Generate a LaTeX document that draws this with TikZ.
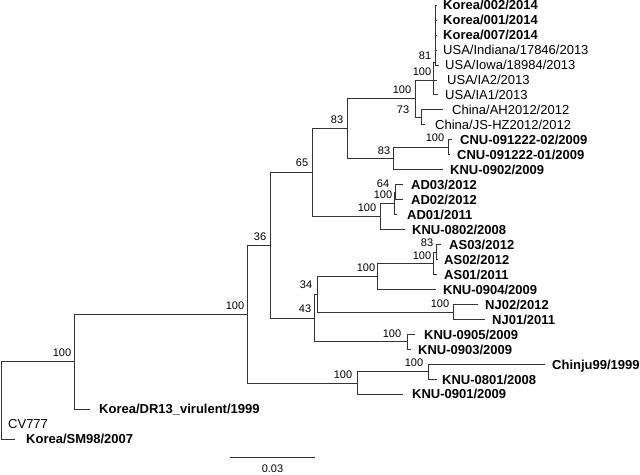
\documentclass[tikz,border=0pt]{standalone}
\usepackage{fontspec}
\setmainfont{Liberation Sans}
\begin{document}
\begin{tikzpicture}[x=1pt,y=-1pt,
  br/.style={line width=0.8pt,draw=black!80,line join=miter},
  tipb/.style={font=\fontsize{13}{13}\selectfont\bfseries,inner sep=0pt,anchor=base west},
  tipr/.style={font=\fontsize{13}{13}\selectfont,inner sep=0pt,anchor=base west},
  bs/.style={font=\fontsize{11}{11}\selectfont,inner sep=0pt,anchor=base}]
\useasboundingbox (0,0) rectangle (640,474);
% ---- tree branches ----
% root
\draw[br] (74,361.7) -- (1,361.7) -- (1,439.1) -- (15,439.1);
% node 74
\draw[br] (247,314.1) -- (74,314.1) -- (74,409.2) -- (90,409.2);
% node 247
\draw[br] (270,245.3) -- (247,245.3) -- (247,383) -- (357,383);
% node 36
\draw[br] (312,172.6) -- (270,172.6) -- (270,317.9) -- (314,317.9);
% node 65
\draw[br] (347,128.7) -- (312,128.7) -- (312,216.5) -- (380,216.5);
% node 83 upper
\draw[br] (415,98.7) -- (347,98.7) -- (347,158.5) -- (393,158.5);
% node 100 big cluster
\draw[br] (433.5,80) -- (415,80) -- (415,117.3) -- (421,117.3);
% USA node
\draw[br] (435.5,62) -- (433.5,62) -- (433.5,94.8) -- (438,94.8);
\draw[br] (433.5,79.9) -- (437,79.9);
% node 81
\draw[br] (437,5) -- (435.5,5) -- (435.5,64.9) -- (439,64.9);
\draw[br] (435.5,20) -- (437,20);
\draw[br] (435.5,34.9) -- (437,34.9);
\draw[br] (435.5,49.9) -- (437,49.9);
% node 73
\draw[br] (443,109.8) -- (421,109.8) -- (421,124.8) -- (425,124.8);
% node 83 lower
\draw[br] (448,147.2) -- (393,147.2) -- (393,169.7) -- (443,169.7);
% CNU node
\draw[br] (452,139.7) -- (448,139.7) -- (448,154.7) -- (450,154.7);
% AD node
\draw[br] (394,203.4) -- (380,203.4) -- (380,229.6) -- (405,229.6);
\draw[br] (395.5,192.1) -- (394,192.1) -- (394,214.6) -- (397,214.6);
\draw[br] (403,184.6) -- (395.5,184.6) -- (395.5,199.6) -- (403,199.6);
% node 43
\draw[br] (317,294) -- (314,294) -- (314,341.8) -- (407,341.8);
% node 34
\draw[br] (377,276.2) -- (317,276.2) -- (317,311.9) -- (453,311.9);
% AS clade
\draw[br] (433,263) -- (377,263) -- (377,289.4) -- (436,289.4);
\draw[br] (436,252) -- (433,252) -- (433,274.5) -- (437,274.5);
\draw[br] (441,244.5) -- (436,244.5) -- (436,259.5) -- (437.5,259.5);
% NJ
\draw[br] (478,304.4) -- (453,304.4) -- (453,319.4) -- (485,319.4);
% KNU-0905
\draw[br] (415,334.3) -- (407,334.3) -- (407,349.3) -- (411,349.3);
% lower clade
\draw[br] (428,371.8) -- (357,371.8) -- (357,394.2) -- (403,394.2);
\draw[br] (545,364.3) -- (428,364.3) -- (428,379.3) -- (437,379.3);
% ---- tip labels ----
\node[tipb] (t0) at (443,9.7) {Korea/002/2014};
\node[tipb] (t1) at (443,24.7) {Korea/001/2014};
\node[tipb] (t2) at (443,39.6) {Korea/007/2014};
\node[tipr] (t3) at (443,54.6) {USA/Indiana/17846/2013};
\node[tipr] (t4) at (445,69.6) {USA/Iowa/18984/2013};
\node[tipr] (t5) at (447,84.6) {USA/IA2/2013};
\node[tipr] (t6) at (445,99.5) {USA/IA1/2013};
\node[tipr] (t7) at (452,114.5) {China/AH2012/2012};
\node[tipr] (t8) at (435,129.5) {China/JS-HZ2012/2012};
\node[tipb] (t9) at (460,144.4) {CNU-091222-02/2009};
\node[tipb] (t10) at (457,159.4) {CNU-091222-01/2009};
\node[tipb] (t11) at (450,174.4) {KNU-0902/2009};
\node[tipb] (t12) at (411,189.3) {AD03/2012};
\node[tipb] (t13) at (411,204.3) {AD02/2012};
\node[tipb] (t14) at (407,219.3) {AD01/2011};
\node[tipb] (t15) at (412,234.3) {KNU-0802/2008};
\node[tipb] (t16) at (449,249.2) {AS03/2012};
\node[tipb] (t17) at (444,264.2) {AS02/2012};
\node[tipb] (t18) at (444,279.2) {AS01/2011};
\node[tipb] (t19) at (443,294.1) {KNU-0904/2009};
\node[tipb] (t20) at (485,309.1) {NJ02/2012};
\node[tipb] (t21) at (492,324.1) {NJ01/2011};
\node[tipb] (t22) at (424,339.0) {KNU-0905/2009};
\node[tipb] (t23) at (418,354.0) {KNU-0903/2009};
\node[tipb] (t24) at (552,369.0) {Chinju99/1999};
\node[tipb] (t25) at (442,384.0) {KNU-0801/2008};
\node[tipb] (t26) at (412,398.9) {KNU-0901/2009};
\node[tipb] (t27) at (99,413.9) {Korea/DR13\_virulent/1999};
\node[tipr] (t28) at (8,428.9) {CV777};
\node[tipb] (t29) at (26,443.8) {Korea/SM98/2007};
% ---- bootstrap values ----
\node[bs] (b1) at (62,356.9) {100};
\node[bs] (b2) at (235,309.9) {100};
\node[bs] (b3) at (260,240.9) {36};
\node[bs] (b4) at (302,166.9) {65};
\node[bs] (b5) at (337,123.9) {83};
\node[bs] (b6) at (402,93.9) {100};
\node[bs] (b7) at (403,113.9) {73};
\node[bs] (b8) at (425,59.9) {81};
\node[bs] (b9) at (422,75.9) {100};
\node[bs] (b10) at (384,154.9) {83};
\node[bs] (b11) at (435,141.9) {100};
\node[bs] (b12) at (383,187.9) {64};
\node[bs] (b13) at (383,198.9) {100};
\node[bs] (b14) at (367,211.9) {100};
\node[bs] (b15) at (427,246.9) {83};
\node[bs] (b16) at (422,259.9) {100};
\node[bs] (b17) at (366,271.9) {100};
\node[bs] (b18) at (306,288.9) {34};
\node[bs] (b19) at (305,312.9) {43};
\node[bs] (b20) at (440,307.9) {100};
\node[bs] (b21) at (392,337.9) {100};
\node[bs] (b22) at (414,366.9) {100};
\node[bs] (b23) at (343,378.9) {100};
% ---- scale bar ----
\coordinate (s1) at (230,457);
\coordinate (s2) at (315,457);
\draw[br] (s1) -- (s2);
\node[bs] (sl) at (272.5,472.6) {0.03};
\end{tikzpicture}
\end{document}
